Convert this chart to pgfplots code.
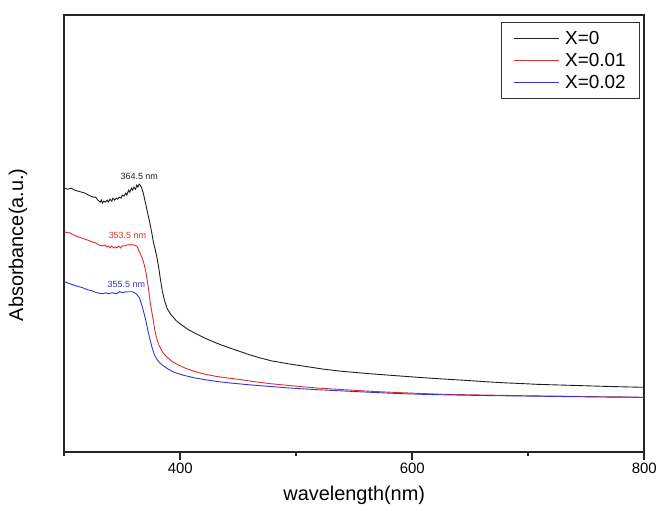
\documentclass[border=0pt]{standalone}
\usepackage{pgfplots}
\pgfplotsset{compat=1.18}
\usepackage{fontspec}
\setmainfont{Liberation Sans}
\definecolor{cblack}{RGB}{30,30,30}
\definecolor{cred}{RGB}{222,45,45}
\definecolor{cblue}{RGB}{50,50,215}
\begin{document}
\begin{tikzpicture}
\begin{axis}[
  scale only axis,
  width=582.5pt, height=439pt,
  xmin=300, xmax=800, ymin=0, ymax=4.39,
  axis line style={line width=1.8pt, black!85},
  ytick=\empty,
  xtick={400,600,800},
  minor xtick={300,500,700},
  xtick pos=left,
  tick align=outside,
  major tick length=8pt, minor tick length=4pt,
  every tick/.style={line width=1.5pt, black!85},
  /pgf/number format/assume math mode=true,
  xticklabel style={font=\fontsize{15}{18}\selectfont},
  xlabel={wavelength(nm)},
  ylabel={Absorbance(a.u.)},
  xlabel style={font=\fontsize{20}{24}\selectfont, at={(axis description cs:0.5,-0.1002)}, anchor=center},
  ylabel style={font=\fontsize{20}{24}\selectfont, at={(axis description cs:-0.0798,0.474)}, anchor=center, rotate=0},
  legend style={at={(rel axis cs:0.993,0.984)}, anchor=north east, draw=black!80, line width=1.2pt,
    font=\fontsize{19}{23.5}\selectfont, inner xsep=12pt, inner ysep=7pt, row sep=3pt,
    /tikz/every odd column/.append style={column sep=4pt}},
  legend cell align=left,
  legend image code/.code={\draw[#1, line width=0.8pt] (0pt,0pt) -- (45pt,0pt);},
]
\addplot[cblack, line width=0.9pt] coordinates {
(300,2.65)(303,2.64)(306,2.65)(309,2.63)(312,2.62)(315,2.61)(318,2.60)(321,2.58)(323,2.57)(325,2.56)(327,2.56)(329,2.53)(331,2.51)(332,2.53)(333,2.50)(334,2.52)(335.5,2.51)(337,2.53)(338,2.51)(339.5,2.54)(341,2.52)(342,2.55)(343.5,2.53)(345,2.55)(346,2.54)(347.5,2.56)(349,2.55)(350,2.58)(351.5,2.57)(353,2.60)(354,2.58)(355.5,2.63)(356.5,2.61)(358,2.65)(359,2.63)(360,2.66)(361.5,2.64)(362.5,2.68)(363.5,2.66)(364.5,2.69)(365.5,2.68)(366.5,2.66)(368,2.61)(369.5,2.53)(371,2.45)(372.5,2.37)(374,2.29)(375.5,2.20)(377,2.10)(378.5,2.03)(380,1.95)(381.5,1.85)(383,1.73)(384.5,1.62)(386.5,1.52)(388.8,1.44)(392,1.38)(396.5,1.32)(402,1.27)(407.6,1.225)(415,1.18)(422,1.14)(430,1.10)(439,1.06)(449,1.02)(459,0.98)(469,0.945)(479,0.915)(494,0.885)(508,0.86)(522,0.835)(536,0.815)(550,0.80)(565,0.785)(580,0.772)(594,0.76)(608,0.748)(622,0.737)(636,0.727)(650,0.717)(665,0.705)(680,0.695)(694,0.688)(708,0.68)(722,0.675)(737,0.67)(751,0.665)(765,0.66)(782,0.655)(800,0.65)
};
\addlegendentry{X=0}
\addplot[cred, line width=0.9pt] coordinates {
(300,2.21)(305,2.20)(310,2.17)(315,2.15)(320,2.13)(324,2.11)(327,2.10)(330,2.08)(333,2.07)(335,2.08)(336.5,2.06)(338,2.07)(339.5,2.05)(341,2.07)(342.5,2.05)(344,2.06)(345.5,2.05)(347,2.07)(348.5,2.05)(350,2.07)(352,2.07)(354,2.08)(356,2.08)(358,2.08)(360.5,2.08)(363,2.06)(365.6,1.99)(367.5,1.94)(369,1.88)(370.5,1.80)(371.6,1.72)(373,1.61)(374,1.51)(375.5,1.41)(376.8,1.32)(378,1.23)(379.3,1.16)(380.5,1.11)(382,1.065)(385,1.00)(388,0.96)(393,0.91)(399,0.87)(406,0.835)(413.6,0.805)(422,0.78)(430.8,0.76)(440,0.745)(450.5,0.73)(465,0.705)(479,0.685)(494,0.668)(508,0.653)(522,0.64)(536,0.63)(550,0.62)(564.5,0.61)(579,0.602)(593,0.595)(608,0.588)(622,0.582)(636,0.578)(650,0.575)(665,0.572)(679.5,0.569)(694,0.566)(708,0.564)(722,0.562)(736,0.56)(752,0.557)(768,0.555)(784,0.553)(800,0.55)
};
\addlegendentry{X=0.01}
\addplot[cblue, line width=0.9pt] coordinates {
(300,1.71)(305,1.69)(310,1.67)(313,1.66)(316,1.65)(320,1.63)(324,1.62)(328,1.60)(333,1.59)(336,1.60)(338,1.59)(341.6,1.60)(345,1.59)(348,1.61)(350,1.60)(353.6,1.61)(356,1.61)(358.7,1.61)(362,1.59)(364.8,1.55)(367.3,1.46)(370,1.34)(372.5,1.20)(375,1.08)(377.6,0.98)(380,0.93)(382,0.90)(385,0.87)(388,0.845)(394,0.805)(401.6,0.775)(411,0.748)(422,0.725)(433,0.707)(444.5,0.692)(458,0.677)(473.7,0.662)(490,0.647)(508,0.633)(522,0.624)(536,0.616)(550,0.608)(564.5,0.60)(579,0.592)(593,0.586)(608,0.58)(622,0.576)(636,0.573)(650,0.57)(665,0.567)(679.5,0.565)(694,0.563)(708,0.561)(724,0.558)(740,0.556)(755,0.554)(770,0.552)(785,0.551)(800,0.55)
};
\addlegendentry{X=0.02}
\node[font=\fontsize{9}{11}\selectfont, text=cblack] at (axis cs:364.7,2.77) {364.5 nm};
\node[font=\fontsize{9}{11}\selectfont, text=cred] at (axis cs:354.5,2.18) {353.5 nm};
\node[font=\fontsize{9}{11}\selectfont, text=cblue] at (axis cs:353.6,1.68) {355.5 nm};
\end{axis}
\path (current axis.south west) ++(-64.5pt,-59pt) rectangle ++(660pt,513pt);
\end{tikzpicture}
\end{document}
